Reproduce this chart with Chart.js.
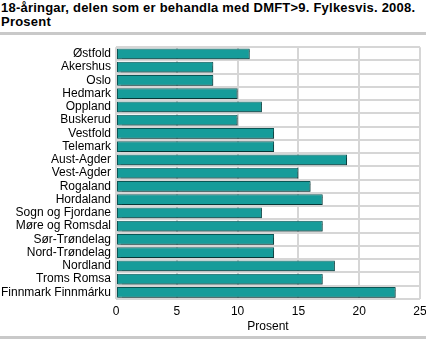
<!DOCTYPE html>
<html>
<head>
<meta charset="utf-8">
<script src="https://cdn.jsdelivr.net/npm/chart.js@4"></script>
<style>
  body { margin: 0; background: #fff; }
  #wrap { position: relative; width: 426px; height: 339px; overflow: hidden; font-family: "Liberation Sans", Arial, sans-serif; }
  #title { position: absolute; left: 1px; top: 1px; font-weight: bold; font-size: 13px; letter-spacing: 0.22px; line-height: 14px; color: #000; white-space: nowrap; }
  .rule { position: absolute; left: 0; width: 426px; height: 3px; background: #c9c9c9; }
  #box { position: absolute; left: 0; top: 35px; width: 426px; height: 299px; }
</style>
</head>
<body>
<div id="wrap">
  <div id="title">18-åringar, delen som er behandla med DMFT&gt;9. Fylkesvis. 2008.<br>Prosent</div>
  <div class="rule" style="top:32px"></div>
  <div id="box"><canvas id="chart"></canvas></div>
  <div class="rule" style="top:336px"></div>
</div>
<script>
// --- Data ---
const fylke = ['Østfold', 'Akershus', 'Oslo', 'Hedmark', 'Oppland', 'Buskerud', 'Vestfold', 'Telemark',
  'Aust-Agder', 'Vest-Agder', 'Rogaland', 'Hordaland', 'Sogn og Fjordane', 'Møre og Romsdal',
  'Sør-Trøndelag', 'Nord-Trøndelag', 'Nordland', 'Troms Romsa', 'Finnmark Finnmárku'];
const prosent = [11, 8, 8, 10, 12, 10, 13, 13, 19, 15, 16, 17, 12, 17, 13, 13, 18, 17, 23];
const xTicks = [0, 5, 10, 15, 20, 25];
const xTitle = 'Prosent';

const font = "'Liberation Sans', Arial, sans-serif";

// skygge under stolpane
const shadowPlugin = {
  id: 'barShadow',
  beforeDatasetDraw(chart) {
    const ctx = chart.ctx;
    ctx.save();
    ctx.shadowColor = 'rgba(0,0,0,0.35)';
    ctx.shadowOffsetX = 1;
    ctx.shadowOffsetY = 1;
    ctx.shadowBlur = 1;
  },
  afterDatasetDraw(chart) {
    chart.ctx.restore();
  }
};

new Chart(document.getElementById('chart'), {
  type: 'bar',
  data: {
    labels: fylke,
    datasets: [{
      data: prosent,
      backgroundColor: '#169c9a',
      borderColor: '#0b5655',
      borderWidth: 1,
      borderSkipped: false,
      barPercentage: 0.82,
      categoryPercentage: 1
    }]
  },
  options: {
    indexAxis: 'y',
    responsive: true,
    maintainAspectRatio: false,
    animation: false,
    layout: { padding: { top: 5, right: 6, left: 0, bottom: 0 } },
    plugins: { legend: { display: false }, tooltip: { enabled: false } },
    scales: {
      x: {
        min: 0, max: 25,
        afterBuildTicks: s => { s.ticks = xTicks.map(v => ({ value: v })); },
        grid: { color: '#d6d6d6', lineWidth: 2, drawTicks: false },
        border: { display: false },
        ticks: { color: '#000', font: { family: font, size: 12 }, padding: 5 },
        title: { display: true, text: xTitle, color: '#000', font: { family: font, size: 12 }, padding: { top: 2, bottom: 0 } },
        afterFit: s => { s.height = 35; s.paddingRight = 0; s.paddingLeft = 0; }
      },
      y: {
        grid: { color: '#d6d6d6', lineWidth: 2, drawTicks: false },
        border: { display: false },
        ticks: { color: '#000', font: { family: font, size: 12 }, padding: 5, autoSkip: false },
        afterFit: s => { s.width = 116; }
      }
    }
  },
  plugins: [shadowPlugin]
});
</script>
</body>
</html>
